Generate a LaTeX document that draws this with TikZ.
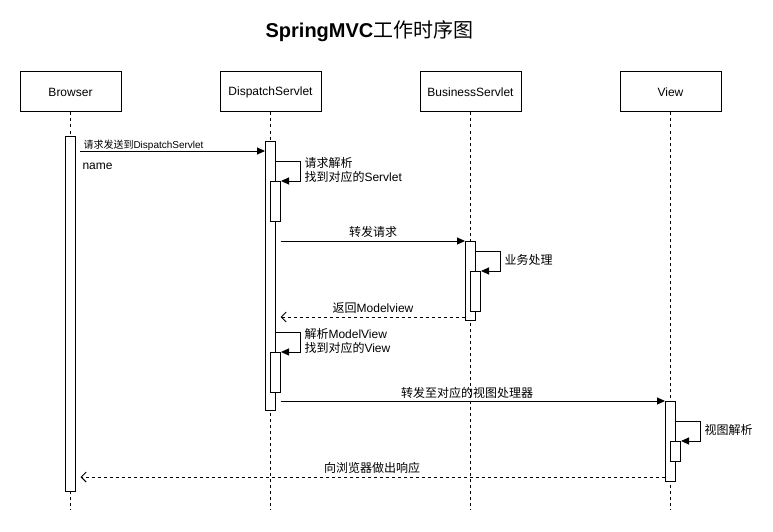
\documentclass[tikz,border=0pt]{standalone}
\usepackage{fontspec}
\setmainfont{Liberation Sans}
\newfontfamily\cjk{Noto Sans CJK SC}
\usetikzlibrary{arrows.meta}
\begin{document}
\begin{tikzpicture}[x=1pt,y=-1pt,line width=1pt,
  head/.style={draw,rectangle,minimum width=101pt,minimum height=40pt,inner sep=0pt,font=\fontsize{12}{14}\selectfont},
  act/.style={draw,fill=white,rectangle,minimum width=10pt,inner sep=0pt,anchor=north},
  life/.style={dash pattern=on 3pt off 3pt},
  msg/.style={-{Triangle[length=8pt,width=7pt]}},
  ret/.style={dash pattern=on 3pt off 3pt,-{Straight Barb[length=5pt,width=10pt,line width=1pt]}},
  lbl/.style={inner sep=0pt,font=\fontsize{12}{14}\selectfont},
  slbl/.style={inner sep=0pt,font=\fontsize{10}{12}\selectfont},
]
\useasboundingbox (0,0) rectangle (773,532);
\node[inner sep=0pt,font=\fontsize{20}{24}\selectfont] (title) at (369.5,31) {\textbf{SpringMVC}{\cjk\mdseries 工作时序图}};
% heads
\node[head] (browser) at (70.5,92) {Browser};
\node[head] (dispatch) at (270.5,92) {DispatchServlet};
\node[head] (business) at (470.5,92) {BusinessServlet};
\node[head] (view) at (670.5,92) {View};
% lifeline ends
\coordinate (bEnd) at (70.5,510);
\coordinate (dEnd) at (270.5,510);
\coordinate (sEnd) at (470.5,510);
\coordinate (vEnd) at (670.5,510);
\draw[life] (browser.south) -- (bEnd);
\draw[life] (dispatch.south) -- (dEnd);
\draw[life] (business.south) -- (sEnd);
\draw[life] (view.south) -- (vEnd);
% activations
\node[act,minimum height=355pt] (bAct) at (70.5,136) {};
\node[act,minimum height=269pt] (dAct) at (270.5,141) {};
\node[act,minimum height=40pt] (dN1) at (275.5,181) {};
\node[act,minimum height=40pt] (dN2) at (275.5,352) {};
\node[act,minimum height=79pt] (sAct) at (470.5,241) {};
\node[act,minimum height=40pt] (sN) at (475.5,271) {};
\node[act,minimum height=80pt] (vAct) at (670.5,401) {};
\node[act,minimum height=20pt] (vN) at (675.5,441) {};
% message 1
\coordinate (m1s) at (80,151);
\draw[msg] (m1s) -- (dAct.west |- m1s);
\node[slbl,anchor=base west] (l1) at (83,148) {{\cjk 请求发送到}DispatchServlet};
\node[lbl,anchor=base west] (name) at (82,169) {name};
% self 1
\coordinate (s1a) at (300,161);
\coordinate (s1b) at (300,181);
\draw[msg] (dAct.east |- s1a) -- (s1a) -- (s1b) -- (dN1.east |- s1b);
\node[lbl,anchor=west,align=left] (l2) at (304,170) {{\cjk 请求解析}\\{\cjk 找到对应的}Servlet};
% message 2
\coordinate (m2s) at (280.5,241);
\draw[msg] (m2s) -- (sAct.west |- m2s);
\node[lbl] (l3) at (373,232) {\cjk 转发请求};
% self 2
\coordinate (s2a) at (500,251);
\coordinate (s2b) at (500,271);
\draw[msg] (sAct.east |- s2a) -- (s2a) -- (s2b) -- (sN.east |- s2b);
\node[lbl,anchor=west] (l4) at (504,260) {\cjk 业务处理};
% message 3 (return)
\coordinate (m3e) at (280.5,317);
\draw[ret] (sAct.west |- m3e) -- (m3e);
\node[lbl] (l5) at (373,308) {{\cjk 返回}Modelview};
% self 3
\coordinate (s3a) at (300,332);
\coordinate (s3b) at (300,352);
\draw[msg] (dAct.east |- s3a) -- (s3a) -- (s3b) -- (dN2.east |- s3b);
\node[lbl,anchor=west,align=left] (l6) at (304,341) {{\cjk 解析}ModelView\\{\cjk 找到对应的}View};
% message 4
\coordinate (m4s) at (280.5,401);
\draw[msg] (m4s) -- (vAct.west |- m4s);
\node[lbl] (l7) at (467,393) {\cjk 转发至对应的视图处理器};
% self 4
\coordinate (s4a) at (700,421);
\coordinate (s4b) at (700,441);
\draw[msg] (vAct.east |- s4a) -- (s4a) -- (s4b) -- (vN.east |- s4b);
\node[lbl,anchor=west] (l8) at (704,430) {\cjk 视图解析};
% message 5 (return)
\coordinate (m5e) at (80.5,477);
\draw[ret] (vAct.west |- m5e) -- (m5e);
\node[lbl] (l9) at (372,468) {\cjk 向浏览器做出响应};
\end{tikzpicture}
\end{document}
